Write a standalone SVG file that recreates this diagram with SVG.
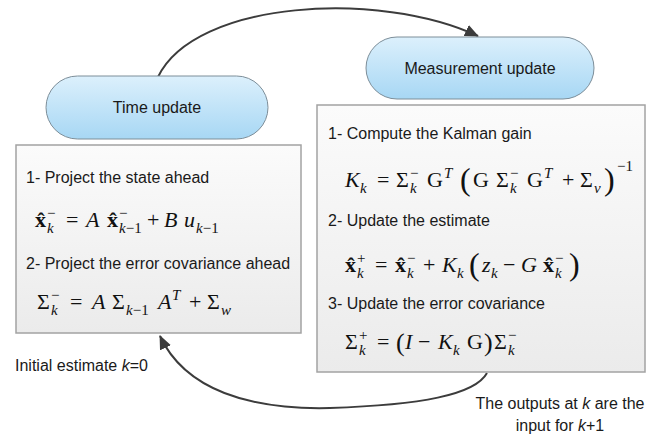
<svg xmlns="http://www.w3.org/2000/svg" width="662" height="439" viewBox="0 0 662 439">
<style>
.lbl{font-family:"Liberation Sans",Arial,sans-serif;font-size:16px;fill:#1a1a1a}
.m{font-family:"Liberation Serif","Times New Roman",serif;font-size:22px;fill:#111}
.i{font-style:italic}
.b{font-weight:bold}
.s{font-size:15px}
.bp{font-size:32px}
.mp{font-size:26px}
.pill{fill:url(#pg);stroke:#7d8e99;stroke-width:1}
.box{fill:url(#bg);stroke:#a3a3a3;stroke-width:1.5}
.conn{fill:none;stroke:#3c3c3c;stroke-width:2;marker-end:url(#ah)}
</style>
<defs>
<linearGradient id="pg" x1="0" y1="0" x2="0" y2="1">
<stop offset="0" stop-color="#dcf0fc"/>
<stop offset="1" stop-color="#a7d7f4"/>
</linearGradient>
<linearGradient id="bg" x1="0" y1="0" x2="0" y2="1">
<stop offset="0" stop-color="#fbfbfb"/>
<stop offset="1" stop-color="#ebebeb"/>
</linearGradient>
<marker id="ah" viewBox="0 0 14 12" refX="13" refY="6" markerWidth="14" markerHeight="12" markerUnits="userSpaceOnUse" orient="auto">
<path d="M0,0 L14,6 L0,12 z" fill="#3c3c3c"/>
</marker>
</defs>
<rect width="662" height="439" fill="#ffffff"/>

<g id="connectors">
<path class="conn" d="M158,77 C195,0 380,-10 478,36"/>
<path class="conn" d="M487,373 C475,395 420,405 330,408 C250,410 185,390 160,336"/>
</g>

<g id="time-update">
<rect class="pill" x="46" y="76" width="222" height="63" rx="31.5"/>
<text class="lbl" x="157" y="113" text-anchor="middle">Time update</text>
</g>

<g id="measurement-update">
<rect class="pill" x="366" y="37" width="228" height="62" rx="31"/>
<text class="lbl" x="480" y="74" text-anchor="middle">Measurement update</text>
</g>

<g id="time-box">
<rect class="box" x="16" y="145" width="285" height="188"/>
<text class="lbl" x="26" y="183">1- Project the state ahead</text>
<text class="m" y="227"><tspan x="35" class="b">x̂</tspan><tspan x="47" y="233" class="s i">k</tspan><tspan x="47" y="218" class="s">−</tspan><tspan x="66" y="227">=</tspan><tspan x="86" class="i">A</tspan><tspan x="107" class="b">x̂</tspan><tspan x="119" y="233" class="s"><tspan class="i">k</tspan>−1</tspan><tspan x="119" y="218" class="s">−</tspan><tspan x="147" y="227">+</tspan><tspan x="164" class="i">B</tspan><tspan x="184" class="i">u</tspan><tspan x="196" y="233" class="s"><tspan class="i">k</tspan>−1</tspan></text>
<text class="lbl" x="26" y="269">2- Project the error covariance ahead</text>
<text class="m" y="309"><tspan x="37">Σ</tspan><tspan x="51" y="315" class="s i">k</tspan><tspan x="51" y="300" class="s">−</tspan><tspan x="70" y="309">=</tspan><tspan x="92" class="i">A</tspan><tspan x="112">Σ</tspan><tspan x="126" y="315" class="s"><tspan class="i">k</tspan>−1</tspan><tspan x="158" y="309" class="i">A</tspan><tspan x="172" y="300" class="s i">T</tspan><tspan x="189" y="309">+</tspan><tspan x="207">Σ</tspan><tspan x="221" y="315" class="s i">w</tspan></text>
</g>

<g id="measurement-box">
<rect class="box" x="317" y="105" width="328" height="267"/>
<text class="lbl" x="328" y="139">1- Compute the Kalman gain</text>
<text class="m" y="187"><tspan x="345" class="i">K</tspan><tspan x="360" y="193" class="s i">k</tspan><tspan x="377" y="187">=</tspan><tspan x="396">Σ</tspan><tspan x="410" y="193" class="s i">k</tspan><tspan x="410" y="178" class="s">−</tspan><tspan x="427" y="187">G</tspan><tspan x="444" y="178" class="s i">T</tspan><tspan x="460" y="190" class="bp">(</tspan><tspan x="473" y="187">G</tspan><tspan x="496">Σ</tspan><tspan x="510" y="193" class="s i">k</tspan><tspan x="510" y="178" class="s">−</tspan><tspan x="527" y="187">G</tspan><tspan x="544" y="178" class="s i">T</tspan><tspan x="562" y="187">+</tspan><tspan x="580">Σ</tspan><tspan x="594" y="193" class="s i">v</tspan><tspan x="604" y="190" class="bp">)</tspan><tspan x="617" y="171" class="s">−1</tspan></text>
<text class="lbl" x="328" y="226">2- Update the estimate</text>
<text class="m" y="272"><tspan x="345" class="b">x̂</tspan><tspan x="357" y="278" class="s i">k</tspan><tspan x="357" y="263" class="s">+</tspan><tspan x="375" y="272">=</tspan><tspan x="395" class="b">x̂</tspan><tspan x="407" y="278" class="s i">k</tspan><tspan x="407" y="263" class="s">−</tspan><tspan x="423" y="272">+</tspan><tspan x="442" class="i">K</tspan><tspan x="457" y="278" class="s i">k</tspan><tspan x="469" y="275" class="bp">(</tspan><tspan x="482" y="272" class="i">z</tspan><tspan x="491" y="278" class="s i">k</tspan><tspan x="503" y="272">−</tspan><tspan x="521" class="i">G</tspan><tspan x="543" class="b">x̂</tspan><tspan x="555" y="278" class="s i">k</tspan><tspan x="555" y="263" class="s">−</tspan><tspan x="569" y="275" class="bp">)</tspan></text>
<text class="lbl" x="328" y="309">3- Update the error covariance</text>
<text class="m" y="349"><tspan x="345">Σ</tspan><tspan x="359" y="355" class="s i">k</tspan><tspan x="359" y="340" class="s">+</tspan><tspan x="377" y="349">=</tspan><tspan x="396" y="351" class="mp">(</tspan><tspan x="405" y="349" class="i">I</tspan><tspan x="418">−</tspan><tspan x="438" class="i">K</tspan><tspan x="453" y="355" class="s i">k</tspan><tspan x="467" y="349">G</tspan><tspan x="484" y="351" class="mp">)</tspan><tspan x="494" y="349">Σ</tspan><tspan x="508" y="355" class="s i">k</tspan><tspan x="508" y="340" class="s">−</tspan></text>
</g>

<g id="initial-label">
<text class="lbl" x="15" y="371">Initial estimate <tspan class="i">k</tspan>=0</text>
</g>

<g id="outputs-label">
<text class="lbl" x="560" y="409" text-anchor="middle">The outputs at <tspan class="i">k</tspan> are the</text>
<text class="lbl" x="560" y="431" text-anchor="middle">input for <tspan class="i">k</tspan>+1</text>
</g>
</svg>
